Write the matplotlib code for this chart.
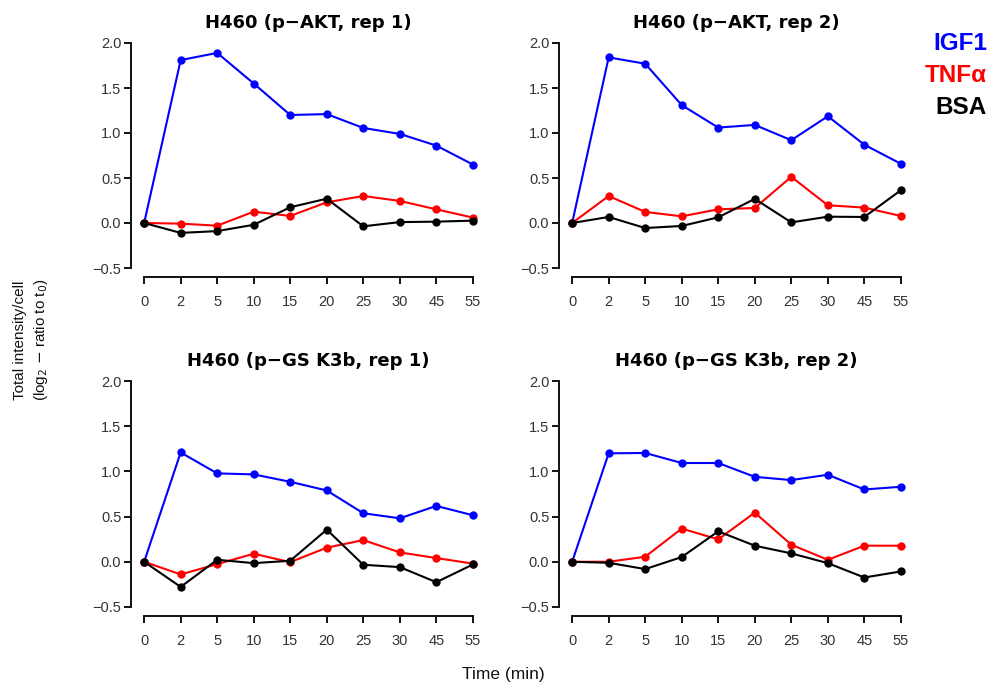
import matplotlib
matplotlib.use("Agg")
import matplotlib.pyplot as plt
import numpy as np

times = ["0", "2", "5", "10", "15", "20", "25", "30", "45", "55"]

titles = ["H460 (p\u2212AKT, rep 1)", "H460 (p\u2212AKT, rep 2)",
          "H460 (p\u2212GS K3b, rep 1)", "H460 (p\u2212GS K3b, rep 2)"]

akt1_igf1 = [0, 1.81, 1.89, 1.55, 1.20, 1.21, 1.056, 0.99, 0.86, 0.65]
akt1_tnfa = [0, -0.007, -0.03, 0.126, 0.078, 0.23, 0.30, 0.245, 0.152, 0.06]
akt1_bsa = [0, -0.11, -0.09, -0.02, 0.175, 0.27, -0.037, 0.01, 0.015, 0.026]

akt2_igf1 = [0, 1.84, 1.77, 1.31, 1.06, 1.09, 0.92, 1.186, 0.87, 0.658]
akt2_tnfa = [0, 0.30, 0.123, 0.074, 0.152, 0.167, 0.513, 0.197, 0.171, 0.078]
akt2_bsa = [0, 0.067, -0.056, -0.033, 0.063, 0.268, 0.007, 0.07, 0.067, 0.364]

gsk1_igf1 = [0, 1.21, 0.978, 0.967, 0.885, 0.789, 0.537, 0.481, 0.618, 0.515]
gsk1_tnfa = [0, -0.14, -0.026, 0.089, -0.004, 0.156, 0.24, 0.104, 0.041, -0.02]
gsk1_bsa = [0, -0.278, 0.022, -0.015, 0.011, 0.356, -0.033, -0.059, -0.226, -0.03]

gsk2_igf1 = [0, 1.20, 1.204, 1.093, 1.093, 0.94, 0.904, 0.963, 0.80, 0.83]
gsk2_tnfa = [0, 0.0, 0.056, 0.367, 0.248, 0.544, 0.189, 0.022, 0.178, 0.178]
gsk2_bsa = [0, -0.011, -0.081, 0.052, 0.337, 0.178, 0.093, -0.015, -0.174, -0.107]

series_names = ["IGF1", "TNF\u03b1", "BSA"]
series_colors = ["#0000ff", "#ff0000", "#000000"]

panels = [
    [akt1_igf1, akt1_tnfa, akt1_bsa],
    [akt2_igf1, akt2_tnfa, akt2_bsa],
    [gsk1_igf1, gsk1_tnfa, gsk1_bsa],
    [gsk2_igf1, gsk2_tnfa, gsk2_bsa],
]

yticks = [-0.5, 0.0, 0.5, 1.0, 1.5, 2.0]

W, H = 992, 683
fig = plt.figure(figsize=(W / 100, H / 100), dpi=100)

tick_font = "Liberation Sans"

# axes boxes in pixels: (left, right, top, bottom)
boxes = [(131, 486, 34, 277), (559, 914, 34, 277),
         (131, 486, 372, 616), (559, 914, 372, 616)]

x = np.arange(len(times))
for i, (l, r, t, b) in enumerate(boxes):
    ax = fig.add_axes([l / W, 1 - b / H, (r - l) / W, (b - t) / H])
    for vals, c in zip(panels[i], series_colors):
        ax.plot(x, vals, color=c, lw=1.5, marker="o", ms=6,
                markeredgewidth=0, solid_joinstyle="round")
    ax.set_xlim(-0.36, len(times) - 1 + 0.36)
    ax.set_ylim(-0.6, 2.1)
    ax.set_xticks(x)
    ax.set_xticklabels(times)
    ax.set_yticks(yticks)
    ax.set_yticklabels([f"{v:.1f}".replace("-", "\u2212") for v in yticks])
    for s in ["top", "right"]:
        ax.spines[s].set_visible(False)
    ax.spines["left"].set_bounds(-0.5, 2.0)
    ax.spines["bottom"].set_bounds(0, len(times) - 1)
    for s in ["left", "bottom"]:
        ax.spines[s].set_linewidth(1.4)
        ax.spines[s].set_color("#111111")
    ax.tick_params(axis="both", length=5, width=1.4, color="#111111",
                   labelsize=10.5, labelcolor="#333333")
    ax.tick_params(axis="x", pad=8)
    ax.tick_params(axis="y", pad=2)
    for lab in ax.get_xticklabels() + ax.get_yticklabels():
        lab.set_fontfamily(tick_font)
    ax.set_title(titles[i], fontsize=13, fontweight="bold",
                 family="DejaVu Sans", pad=4)

# shared axis labels
fig.text(20 / W, 1 - 340 / H, "Total intensity/cell", rotation=90,
         ha="center", va="center", fontsize=11, family=tick_font,
         color="#111111")
fig.text(41 / W, 1 - 340 / H, r"(log$_2$ $-$ ratio to t$_0$)", rotation=90,
         ha="center", va="center", fontsize=11, family=tick_font,
         color="#111111")
fig.text(503 / W, 1 - 675 / H, "Time (min)", ha="center", va="center",
         fontsize=12.5, family=tick_font, color="#111111")

# legend text
for k, (name, c) in enumerate(zip(series_names, series_colors)):
    fig.text(987 / W, 1 - (43 + 32 * k) / H, name, ha="right", va="center",
             fontsize=17.5, fontweight="bold", color=c,
             family=[tick_font, "DejaVu Sans"])

fig.savefig("out.png", dpi=100)
